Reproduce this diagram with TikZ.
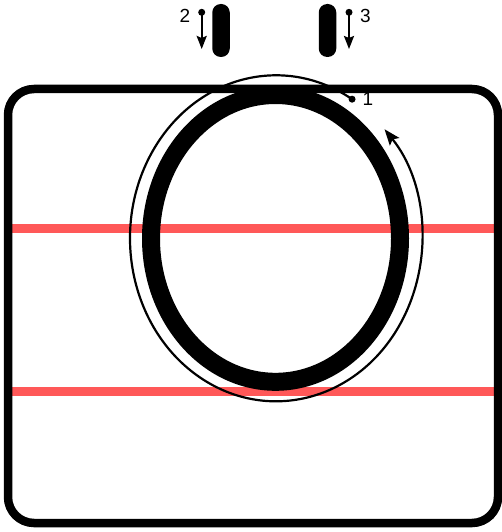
\documentclass[tikz,border=0pt]{standalone}
\usepackage{fontspec}
\setmainfont{Liberation Sans}
\usetikzlibrary{arrows.meta}
\definecolor{guide}{RGB}{255,88,88}
\begin{document}
\begin{tikzpicture}[x=1pt,y=-1pt,
  lbl/.style={font=\fontsize{19}{19}\selectfont, inner sep=0pt},
  pill/.style={fill=black, rounded corners=8.5pt, minimum width=17.5pt, minimum height=53pt, inner sep=0pt},
  dotmark/.style={circle, fill=black, minimum size=7pt, inner sep=0pt},
  dotarrow/.style={line width=2.2pt, -{Stealth[length=13pt,width=10pt,inset=2pt]}},
  guideline/.style={guide, line width=9pt},
  frame/.style={line width=8.5pt, rounded corners=26pt}]
\useasboundingbox (0,0) rectangle (502,532);
% guide lines
\draw[guideline] (4,228.7) -- (498,228.7);
\draw[guideline] (4,391) -- (498,391);
% frame
\draw[frame] (8,89) rectangle (498,523);
% thick oval
\draw[line width=18pt] (275.5,238.4) ellipse [x radius=124.5, y radius=143.4];
% stroke path
\coordinate (c) at (276,238.3);
\node[dotmark] (d1) at ([shift={(58.6:146 and -163)}]c) {};
\draw[line width=2.2pt, -{Stealth[length=16pt,width=12pt,inset=3pt]}]
  (d1.center) arc[start angle=58.6, end angle=402, x radius=146, y radius=-163];
\node[lbl] (n1) at (368,99) {1};
% pills
\node[pill] (p2) at (221,30.5) {};
\node[pill] (p3) at (327.5,30.5) {};
% arrows 2 and 3
\node[dotmark] (a2s) at (201.7,12.3) {};
\node[dotmark] (a3s) at (349,12.3) {};
\coordinate (a2e) at (201.7,49);
\coordinate (a3e) at (349,49);
\draw[dotarrow] (a2s.center) -- (a2e);
\draw[dotarrow] (a3s.center) -- (a3e);
\node[lbl] (n2) at (185,16) {2};
\node[lbl] (n3) at (365.5,16) {3};
\end{tikzpicture}
\end{document}
